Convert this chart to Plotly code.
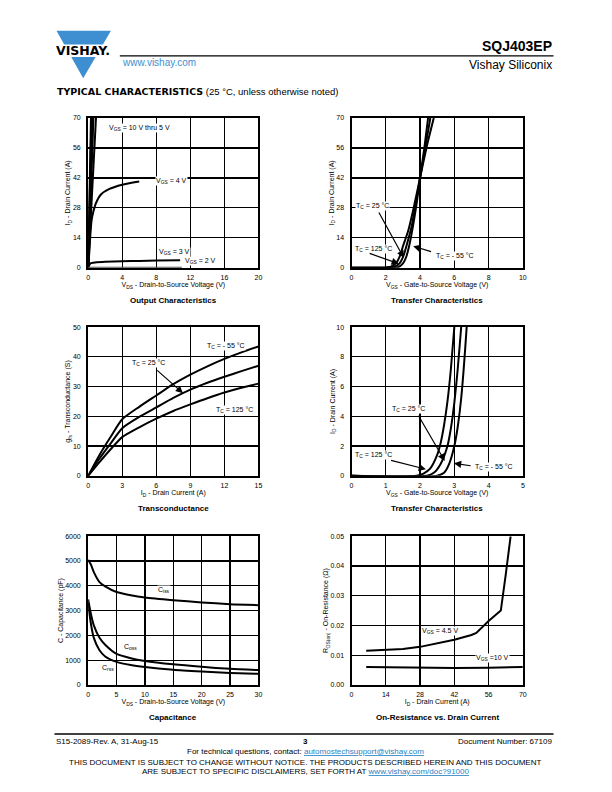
import plotly.graph_objects as go

W, H = 612, 792
FONT = "Liberation Sans, Arial, sans-serif"
HEAVY = "DejaVu Sans, Liberation Sans, sans-serif"


def px(x):
    return x / W


def py(y):
    return 1 - y / H


# ---------------- DATA ----------------
# Output characteristics (ID vs VDS)
oc_high_vgs = ["10 V", "8 V", "7 V", "6 V", "5 V"]
oc_high_vds = [[0, 0.33], [0, 0.40], [0, 0.48], [0, 0.62], [0, 0.3, 0.6, 0.92]]
oc_high_id = [[0, 70], [0, 70], [0, 70], [0, 70], [0, 24, 47, 70]]
oc_4v_vds = [0, 0.15, 0.27, 0.4, 0.6, 0.9, 1.5, 2.5, 4.0, 6.0]
oc_4v_id = [0, 8, 16, 22, 26, 30, 34.2, 36.8, 38.8, 40.3]
oc_3v_vds = [0, 0.1, 0.27, 0.6, 1.0, 2.0, 4.0, 6.0, 8.0, 10.8]
oc_3v_id = [0, 1.0, 2.0, 2.3, 2.5, 2.7, 2.95, 3.15, 3.3, 3.45]
oc_2v_vds = [0, 11.0]
oc_2v_id = [0.05, 0.08]

# Transfer characteristics (ID vs VGS), full range
tc_temps = ["- 55 °C", "25 °C", "125 °C"]
tc_vgs_m55 = [0, 2.5, 2.7, 2.85, 3.0, 3.1, 3.2, 3.36, 3.6, 3.8, 4.0, 4.25, 4.47]
tc_id_m55 = [0, 0, 0.2, 0.8, 2.0, 3.3, 5.2, 10, 20, 30, 42, 56, 70]
tc_vgs_25 = [0, 2.2, 2.4, 2.6, 2.8, 2.9, 3.0, 3.1, 3.2, 3.5, 3.75, 4.0, 4.3, 4.6]
tc_id_25 = [0, 0, 0.2, 0.8, 2.0, 3.2, 4.9, 7.2, 10, 19, 30, 42, 56, 70]
tc_vgs_125 = [0, 1.9, 2.1, 2.3, 2.5, 2.6, 2.7, 2.8, 2.9, 3.0, 3.3, 3.6, 4.0, 4.4, 4.8]
tc_id_125 = [0, 0, 0.15, 0.5, 1.4, 2.2, 3.4, 5.0, 7.2, 10, 17, 27, 42, 57, 70]

# Transconductance (gfs vs ID)
gfs_id = [0, 1, 2, 3, 4.5, 6, 7.5, 9, 10.5, 12, 13.5, 15]
gfs_m55 = [0, 7, 13.2, 19, 23.2, 27, 30.8, 34, 36.8, 39.3, 41.5, 43.5]
gfs_25 = [0, 5.8, 11, 16, 19.8, 23, 26.2, 29, 31.3, 33.3, 35.2, 37]
gfs_125 = [0, 4.6, 9, 13, 16.3, 19.2, 21.8, 24, 26.1, 28, 29.6, 31]

# Capacitance (pF vs VDS)
cap_vds = [0, 0.5, 1, 2, 3, 5, 7.5, 10, 15, 20, 25, 30]
cap_ciss = [5050, 4850, 4550, 4150, 3980, 3750, 3620, 3530, 3420, 3330, 3260, 3220]
cap_coss = [3450, 2850, 2400, 1900, 1620, 1250, 1080, 970, 830, 730, 650, 600]
cap_crss = [3300, 2450, 1900, 1400, 1150, 930, 800, 720, 610, 540, 480, 450]

# On-resistance (ohm vs ID)
rds_id_45 = [6, 14, 21, 28, 35, 42, 49, 51, 56, 61, 63, 65]
rds_45 = [0.0115, 0.0118, 0.0121, 0.0128, 0.0139, 0.0152, 0.0168, 0.0175, 0.0215, 0.025, 0.037, 0.050]
rds_id_10 = [6, 14, 28, 35, 42, 56, 70]
rds_10 = [0.0060, 0.0059, 0.0059, 0.0057, 0.0057, 0.0058, 0.0060]

# ---------------- LAYOUT OF PANELS (page pixels) ----------------
panels = [
    dict(x0=87, x1=259, y0=115, y1=266, xr=[0, 20], xd=4, yr=[0, 70], yd=14, yfmt="d",
         xt="V<sub>DS</sub> - Drain-to-Source Voltage (V)", yt="I<sub>D</sub> - Drain Current (A)",
         title="Output Characteristics"),
    dict(x0=353, x1=526, y0=115, y1=266, xr=[0, 10], xd=2, yr=[0, 70], yd=14, yfmt="d",
         xt="V<sub>GS</sub> - Gate-to-Source Voltage (V)", yt="I<sub>D</sub> - Drain Current (A)",
         title="Transfer Characteristics"),
    dict(x0=87, x1=259, y0=326, y1=476, xr=[0, 15], xd=3, yr=[0, 50], yd=10, yfmt="d",
         xt="I<sub>D</sub> - Drain Current (A)", yt="g<sub>fs</sub> - Transconductance (S)",
         title="Transconductance"),
    dict(x0=353, x1=526, y0=326, y1=476, xr=[0, 5], xd=1, yr=[0, 10], yd=2, yfmt="d",
         xt="V<sub>GS</sub> - Gate-to-Source Voltage (V)", yt="I<sub>D</sub> - Drain Current (A)",
         title="Transfer Characteristics"),
    dict(x0=87, x1=259, y0=537, y1=687, xr=[0, 30], xd=5, yr=[0, 6000], yd=1000, yfmt="d",
         xt="V<sub>DS</sub> - Drain-to-Source Voltage (V)", yt="C - Capacitance (pF)",
         title="Capacitance"),
    dict(x0=353, x1=526, y0=537, y1=687, xr=[0, 70], xd=14, yr=[0, 0.05], yd=0.01, yfmt=".2f",
         xt="I<sub>D</sub> - Drain Current (A)", yt="R<sub>DS(on)</sub> - On-Resistance (Ω)",
         title="On-Resistance vs. Drain Current"),
]

fig = go.Figure()
LW = 2.0


def add_line(i, x, y, shape="linear", color="black", width=LW):
    fig.add_trace(go.Scatter(x=x, y=y, mode="lines",
                             line=dict(color=color, width=width, shape=shape, smoothing=0.6),
                             xaxis="x" if i == 1 else f"x{i}", yaxis="y" if i == 1 else f"y{i}",
                             showlegend=False, hoverinfo="skip"))


# panel 1
for vx, vy in zip(oc_high_vds, oc_high_id):
    add_line(1, vx, vy)
add_line(1, oc_4v_vds, oc_4v_id, "spline")
add_line(1, oc_3v_vds, oc_3v_id, "spline")
add_line(1, oc_2v_vds, oc_2v_id, color="#555555", width=1.5)
# panel 2
add_line(2, tc_vgs_m55, tc_id_m55, "spline")
add_line(2, tc_vgs_25, tc_id_25, "spline")
add_line(2, tc_vgs_125, tc_id_125, "spline")
# panel 3
add_line(3, gfs_id, gfs_m55, "spline")
add_line(3, gfs_id, gfs_25, "spline")
add_line(3, gfs_id, gfs_125, "spline")
# panel 4
add_line(4, tc_vgs_m55, tc_id_m55, "spline")
add_line(4, tc_vgs_25, tc_id_25, "spline")
add_line(4, tc_vgs_125, tc_id_125, "spline")
# panel 5
add_line(5, cap_vds, cap_ciss, "spline")
add_line(5, cap_vds, cap_coss, "spline")
add_line(5, cap_vds, cap_crss, "spline")
# panel 6
add_line(6, rds_id_45, rds_45)
add_line(6, rds_id_10, rds_10)

layout = dict(width=W, height=H, margin=dict(l=0, r=0, t=0, b=0),
              paper_bgcolor="white", plot_bgcolor="white",
              font=dict(family=FONT, color="black", size=7), showlegend=False)

annotations = []
shapes = []
TICKFONT = dict(family=FONT, size=7, color="black")

for i, p in enumerate(panels, start=1):
    xa = "xaxis" if i == 1 else f"xaxis{i}"
    ya = "yaxis" if i == 1 else f"yaxis{i}"
    xref = "x" if i == 1 else f"x{i}"
    yref = "y" if i == 1 else f"y{i}"
    layout[xa] = dict(domain=[px(p["x0"]), px(p["x1"])], range=p["xr"], dtick=p["xd"], tick0=0,
                      anchor=yref, showgrid=True, gridcolor="black", gridwidth=1.3,
                      showline=True, linecolor="black", linewidth=2, mirror=True,
                      ticks="", zeroline=False, tickfont=TICKFONT, fixedrange=True,
                      ticklabelstandoff=2,
                      title=dict(text=p["xt"], font=dict(family=FONT, size=7), standoff=2))
    layout[ya] = dict(domain=[py(p["y1"]), py(p["y0"])], range=p["yr"], dtick=p["yd"], tick0=0,
                      anchor=xref, showgrid=True, gridcolor="black", gridwidth=1.3,
                      showline=True, linecolor="black", linewidth=2, mirror=True,
                      ticks="", zeroline=False, tickfont=TICKFONT, tickformat=p["yfmt"],
                      fixedrange=True, ticklabelstandoff=4,
                      title=dict(text=p["yt"], font=dict(family=FONT, size=7), standoff=0))
    annotations.append(dict(text="<b>" + p["title"] + "</b>", xref="paper", yref="paper",
                            x=px((p["x0"] + p["x1"]) / 2), y=py(p["y1"] + 33),
                            showarrow=False, font=dict(family=FONT, size=8),
                            xanchor="center", yanchor="middle"))


def label(i, x, y, text, anchor="left"):
    annotations.append(dict(text=text, x=x, y=y, xref="x" if i == 1 else f"x{i}",
                            yref="y" if i == 1 else f"y{i}", showarrow=False,
                            xanchor=anchor, yanchor="middle",
                            font=dict(family=FONT, size=7), bgcolor="white", borderpad=0))


def arrow(i, x0, y0, x1, y1):
    r = "x" if i == 1 else f"x{i}"
    ry = "y" if i == 1 else f"y{i}"
    annotations.append(dict(text="", x=x1, y=y1, ax=x0, ay=y0, xref=r, yref=ry, axref=r, ayref=ry,
                            showarrow=True, arrowhead=2, arrowsize=1.2, arrowwidth=1.2,
                            arrowcolor="black"))


# panel labels
label(1, 2.3, 65.5, "V<sub>GS</sub> = 10 V thru 5 V")
label(1, 7.8, 40.3, "V<sub>GS</sub> = 4 V")
label(1, 8.2, 7.2, "V<sub>GS</sub> = 3 V")
label(1, 11.3, 3.0, "V<sub>GS</sub> = 2 V")

label(2, 0.2, 28.8, "T<sub>C</sub> = 25 °C")
arrow(2, 1.55, 26.5, 3.05, 4.6)
label(2, 0.15, 8.9, "T<sub>C</sub> = 125 °C")
arrow(2, 0.97, 6.9, 2.76, 1.8)
label(2, 4.85, 5.4, "T<sub>C</sub> = - 55 °C")
arrow(2, 4.73, 7.3, 3.6, 10.0)

label(3, 10.4, 43.7, "T<sub>C</sub> = - 55 °C")
label(3, 3.8, 38.0, "T<sub>C</sub> = 25 °C")
arrow(3, 5.95, 35.9, 8.35, 27.8)
label(3, 11.2, 22.2, "T<sub>C</sub> = 125 °C")

label(4, 1.16, 4.47, "T<sub>C</sub> = 25 °C")
arrow(4, 1.93, 4.14, 2.72, 1.0)
label(4, 0.08, 1.37, "T<sub>C</sub> = 125 °C")
arrow(4, 1.11, 1.06, 2.17, 0.44)
label(4, 3.56, 0.62, "T<sub>C</sub> = - 55 °C")
arrow(4, 3.52, 0.66, 2.99, 0.84)

label(5, 12.1, 3830, "C<sub>iss</sub>")
label(5, 6.1, 1520, "C<sub>oss</sub>")
label(5, 2.3, 690, "C<sub>rss</sub>")

label(6, 28.3, 0.0181, "V<sub>GS</sub> = 4.5 V")
label(6, 50.5, 0.0092, "V<sub>GS</sub> =10 V")


def page_text(x, y, text, size, anchor="left", color="black", family=FONT):
    annotations.append(dict(text=text, x=px(x), y=py(y), xref="paper", yref="paper",
                            showarrow=False, xanchor=anchor, yanchor="middle",
                            font=dict(family=family, size=size, color=color)))


BLUE = "#3d8fd1"
# header logo
shapes.append(dict(type="path", xref="paper", yref="paper",
                   path=f"M {px(55)} {py(27)} L {px(110)} {py(27)} L {px(82)} {py(75)} Z",
                   fillcolor=BLUE, line=dict(width=0)))
shapes.append(dict(type="rect", xref="paper", yref="paper", x0=px(50), x1=px(115),
                   y0=py(53.5), y1=py(40.8), fillcolor="white", line=dict(width=0)))
page_text(82, 47.3, "<b>VISHAY.</b>", 12.5, "center", family=HEAVY)
shapes.append(dict(type="line", xref="paper", yref="paper", x0=px(119), x1=px(557),
                   y0=py(52.3), y1=py(52.3), line=dict(color="black", width=1.3)))
page_text(557, 42, "<b>SQJ403EP</b>", 14, "right")
page_text(557, 62, "Vishay Siliconix", 12, "right")
page_text(119, 58.8, "www.vishay.com", 10, "left", BLUE)
page_text(54, 88.3, "<span style='font-family:DejaVu Sans'><b>TYPICAL CHARACTERISTICS</b></span>"
          " (25 °C, unless otherwise noted)", 9.5, "left")

# footer
shapes.append(dict(type="line", xref="paper", yref="paper", x0=px(53), x1=px(557),
                   y0=py(736.5), y1=py(736.5), line=dict(color="black", width=1.3)))
page_text(53, 744, "S15-2089-Rev. A, 31-Aug-15", 8, "left")
page_text(306, 744.5, "<b>3</b>", 8, "center")
page_text(557, 744, "Document Number: 67109", 8, "right")
page_text(306, 754.5, "For technical questions, contact: "
          "<span style='color:#1f7fc4'><u>automostechsupport@vishay.com</u></span>", 8, "center")
page_text(306, 765, "THIS DOCUMENT IS SUBJECT TO CHANGE WITHOUT NOTICE. THE PRODUCTS DESCRIBED HEREIN AND THIS DOCUMENT",
          8, "center")
page_text(306, 774, "ARE SUBJECT TO SPECIFIC DISCLAIMERS, SET FORTH AT "
          "<span style='color:#1f7fc4'><u>www.vishay.com/doc?91000</u></span>", 8, "center")

layout["annotations"] = annotations
layout["shapes"] = shapes
fig.update_layout(**layout)
fig.write_html("out.html", config={"displayModeBar": False, "staticPlot": True},
               post_script="document.body.style.margin='0';document.body.style.padding='0';"
                           "document.body.style.overflow='hidden';")
